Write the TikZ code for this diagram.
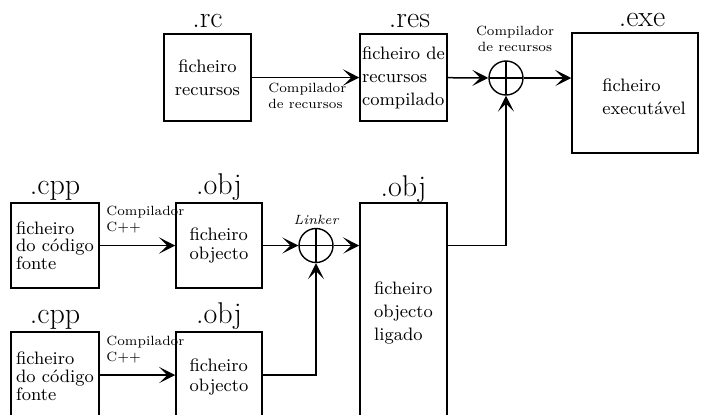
\documentclass[tikz,border=0pt]{standalone}
\usepackage{tikz}
\usetikzlibrary{arrows.meta,positioning}

\begin{document}
\begin{tikzpicture}[x=0.5pt, y=-0.5pt,
    filebox/.style={draw, line width=0.75pt, inner sep=0pt, align=left, font=\fontsize{9}{11.5}\selectfont},
    ext/.style={font=\fontsize{15}{18}\selectfont, anchor=base, inner sep=0pt},
    tool/.style={font=\fontsize{6.7}{8}\selectfont, inner sep=0pt},
    joiner/.style={draw, circle, line width=0.7pt, minimum size=17pt, inner sep=0pt,
        path picture={\draw[line width=0.7pt] (path picture bounding box.north) -- (path picture bounding box.south)
            (path picture bounding box.west) -- (path picture bounding box.east);}},
    flow/.style={line width=0.75pt, -{Stealth[length=8pt, width=8pt, inset=4pt]}}]
    \useasboundingbox (0,0) rectangle (704,414);
    \clip (0,0) rectangle (704,414);

    % Resources
    \node[filebox, align=center, minimum width=43.5pt, minimum height=43.5pt] (rcbox) at (207.5,77.5) {ficheiro\\recursos};
    \node[ext] (rclbl) at ([yshift=3pt]rcbox.north) {.rc};
    \node[filebox, minimum width=43.5pt, minimum height=43.5pt] (resbox) at (403.5,77.5) {ficheiro de\\recursos\\compilado};
    \node[ext] (reslbl) at ([xshift=3pt, yshift=3pt]resbox.north) {.res};

    % Executable
    \node[filebox, minimum width=63pt, minimum height=60pt] (exebox) at (635,93) {};
    \node[font=\fontsize{9}{11.5}\selectfont, align=left, inner sep=0pt] (exetxt) at (644,97) {ficheiro\\executável};
    \node[ext] (exelbl) at ([xshift=3.5pt, yshift=3pt]exebox.north) {.exe};
    \node[joiner] (rescomp) at (506,78) {};
    \node[tool, align=center, anchor=south] (reslink) at ([xshift=4.5pt, yshift=4pt]rescomp.north) {Compilador\\de recursos};

    % Sources and objects
    \node[filebox, font=\fontsize{9}{8.7}\selectfont, minimum width=44pt, minimum height=42.5pt] (cppa) at (55,245.5) {ficheiro\\do código\\fonte};
    \node[ext] (cppalbl) at ([yshift=4pt]cppa.north) {.cpp};
    \node[filebox, font=\fontsize{9}{9.5}\selectfont, minimum width=43pt, minimum height=42.5pt] (obja) at (219,245.5) {ficheiro\\objecto};
    \node[ext] (objalbl) at ([yshift=4pt]obja.north) {.obj};
    \node[filebox, font=\fontsize{9}{9}\selectfont, minimum width=44pt, minimum height=44pt] (cppb) at (55,376) {ficheiro\\do código\\fonte};
    \node[ext] (cppblbl) at ([yshift=4pt]cppb.north) {.cpp};
    \node[filebox, font=\fontsize{9}{10}\selectfont, minimum width=43pt, minimum height=45pt] (objb) at (219,377) {ficheiro\\objecto};
    \node[ext] (objblbl) at ([yshift=4pt]objb.north) {.obj};
    \node[tool, align=left, anchor=north west] (ccalbl) at (106,206) {Compilador\\C++};
    \node[tool, align=left, anchor=north west] (ccblbl) at (106,336) {Compilador\\C++};

    % Linking
    \node[joiner] (linker) at (316,245.5) {};
    \node[tool, font=\fontsize{6.7}{8}\selectfont\itshape, anchor=south] (linklbl) at ([yshift=1.5pt]linker.north) {Linker};
    \node[filebox, minimum width=43.5pt, minimum height=110pt] (ligbox) at (403.5,313) {ficheiro\\objecto\\ligado};
    \node[ext] (liglbl) at ([yshift=3pt]ligbox.north) {.obj};

    % Connectors
    \coordinate (rowb) at (0,375);
    \draw[flow] (rcbox) -- (resbox);
    \node[tool, align=left, anchor=north west] (rclink) at (268,83) {Compilador\\de recursos};
    \draw[flow] (resbox) -- (rescomp);
    \draw[flow] (rescomp) -- (rescomp -| exebox.west);
    \draw[flow] (cppa) -- (obja);
    \draw[flow] (obja) -- (linker);
    \draw[flow] (cppb.east |- rowb) -- (objb.west |- rowb);
    \draw[flow] (objb.east |- rowb) -| (linker);
    \draw[flow] (linker) -- (linker -| ligbox.west);
    \draw[flow] (ligbox.east |- linker) -| (rescomp);
\end{tikzpicture}
\end{document}
